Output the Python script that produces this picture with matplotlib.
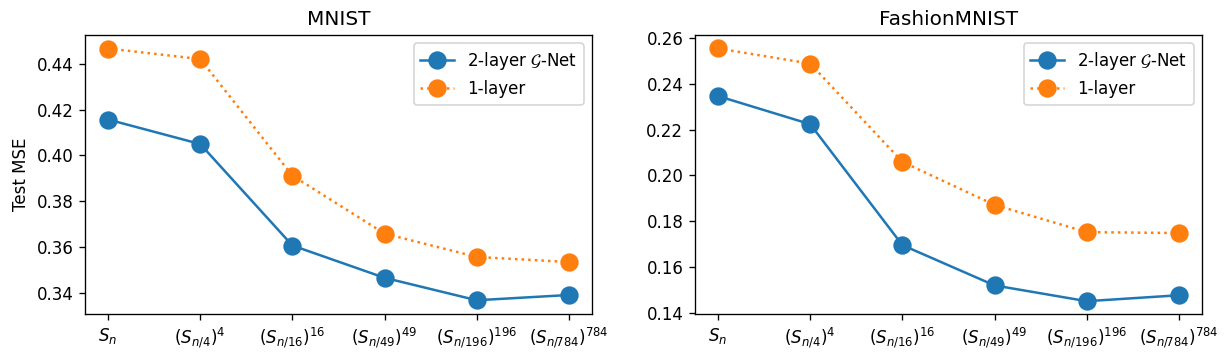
import matplotlib
matplotlib.use("Agg")
import matplotlib.pyplot as plt

# x categories (subgroup structures)
groups = [r"$S_n$", r"$(S_{n/4})^4$", r"$(S_{n/16})^{16}$",
          r"$(S_{n/49})^{49}$", r"$(S_{n/196})^{196}$", r"$(S_{n/784})^{784}$"]

# test MSE
mnist_2layer = [0.4157, 0.4050, 0.3607, 0.3466, 0.3368, 0.3391]
mnist_1layer = [0.4467, 0.4421, 0.3912, 0.3659, 0.3557, 0.3535]
fashion_2layer = [0.2347, 0.2224, 0.1695, 0.1519, 0.1450, 0.1476]
fashion_1layer = [0.2555, 0.2489, 0.2059, 0.1871, 0.1752, 0.1748]

W, H = 1229, 362
DPI = 120
fig = plt.figure(figsize=(W / DPI, H / DPI), dpi=DPI)

ax1 = fig.add_axes([85 / W, 1 - 314 / H, 507 / W, 279 / H])
ax2 = fig.add_axes([695 / W, 1 - 314 / H, 507 / W, 279 / H])


def draw(ax, two, one, title, ylim, yticks):
    x = range(len(groups))
    ax.plot(x, two, "o-", color="#1f77b4", markersize=10,
            label=r"2-layer $\mathcal{G}$-Net")
    ax.plot(x, one, "o:", color="#ff7f0e", markersize=10, label="1-layer")
    ax.set_xticks(list(x))
    ax.set_xticklabels(groups)
    ax.set_yticks(yticks)
    ax.set_ylim(*ylim)
    ax.set_title(title)
    ax.legend(loc="upper right")


draw(ax1, mnist_2layer, mnist_1layer, "MNIST", (0.3308, 0.4526),
     [0.34, 0.36, 0.38, 0.40, 0.42, 0.44])
ax1.set_ylabel("Test MSE")
draw(ax2, fashion_2layer, fashion_1layer, "FashionMNIST", (0.1394, 0.2614),
     [0.14, 0.16, 0.18, 0.20, 0.22, 0.24, 0.26])

fig.savefig("out.png", dpi=DPI)
